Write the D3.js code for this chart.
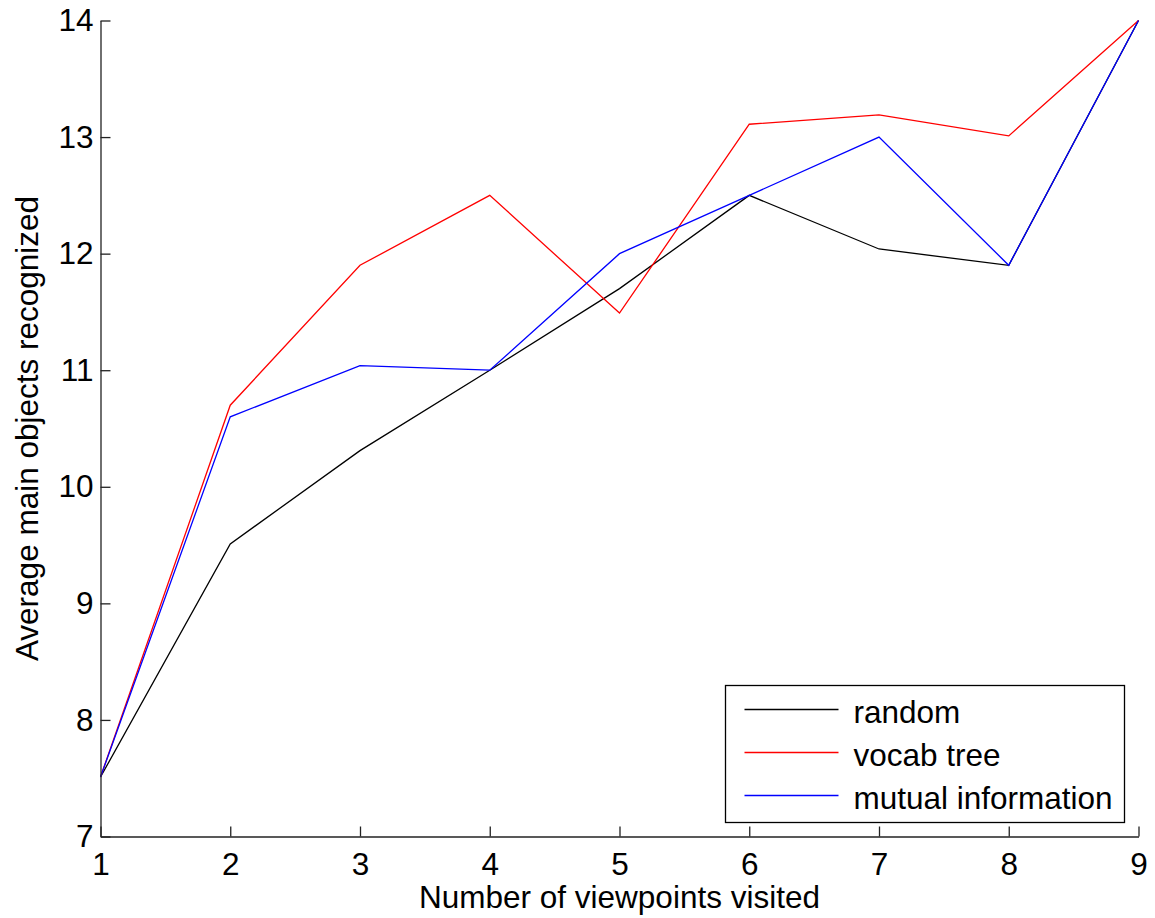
<!DOCTYPE html>
<html>
<head>
<meta charset="utf-8">
<script src="https://cdn.jsdelivr.net/npm/d3@7"></script>
<style>
  body { margin: 0; background: #fff; }
  svg text { font-family: "Liberation Sans", Arial, sans-serif; fill: #000; }
</style>
</head>
<body>
<svg id="chart" width="1155" height="918"></svg>
<script>
const viewpoints = [1, 2, 3, 4, 5, 6, 7, 8, 9]
const randomVals = [7.51, 9.51, 10.31, 11.0, 11.7, 12.5, 12.04, 11.9, 14.0]
const vocabVals = [7.51, 10.7, 11.9, 12.5, 11.49, 13.11, 13.19, 13.01, 14.0]
const mutualVals = [7.51, 10.6, 11.04, 11.0, 12.0, 12.5, 13.0, 11.9, 14.0]
const seriesNames = ['random', 'vocab tree', 'mutual information']
const seriesColors = ['#000000', '#ff0000', '#0000ff']
const yTicks = [7, 8, 9, 10, 11, 12, 13, 14]

const series = [randomVals, vocabVals, mutualVals].map((vals, i) => ({
  name: seriesNames[i],
  color: seriesColors[i],
  points: vals.map((v, j) => ({ x: viewpoints[j], y: v }))
}))

const svg = d3.select('#chart')
const fs = 31.5

const x = d3.scaleLinear().domain([1, 9]).range([100.5, 1138.5])
const y = d3.scaleLinear().domain([7, 14]).range([836.5, 20.5])

// lines
const line = d3.line().x(d => x(d.x)).y(d => y(d.y))
svg.append('g')
  .selectAll('path')
  .data(series)
  .enter()
  .append('path')
  .attr('d', d => line(d.points))
  .attr('fill', 'none')
  .attr('stroke', d => d.color)
  .attr('stroke-width', 1.3)

// axes (ticks point inward)
const xAxis = svg.append('g')
  .attr('transform', `translate(0,${y(7)})`)
  .call(d3.axisBottom(x).tickValues(viewpoints).tickFormat(d3.format('d')).tickSizeInner(-10).tickSizeOuter(0).tickPadding(16))
const yAxis = svg.append('g')
  .attr('transform', `translate(${x(1)},0)`)
  .call(d3.axisLeft(y).tickValues(yTicks).tickFormat(d3.format('d')).tickSizeInner(-10).tickSizeOuter(0).tickPadding(7))

;[xAxis, yAxis].forEach(ax => {
  ax.select('.domain').attr('stroke', '#222').attr('stroke-width', 1.3)
  ax.selectAll('.tick line').attr('stroke', '#222').attr('stroke-width', 1.3)
  ax.selectAll('.tick text').style('font-size', fs + 'px').style('font-family', '"Liberation Sans", Arial, sans-serif').attr('fill', '#000')
})

// axis labels
svg.append('text')
  .attr('x', (x(1) + x(9)) / 2)
  .attr('y', 908)
  .attr('text-anchor', 'middle')
  .style('font-size', fs + 'px')
  .text('Number of viewpoints visited')

svg.append('text')
  .attr('transform', `translate(38,${(y(7) + y(14)) / 2}) rotate(-90)`)
  .attr('text-anchor', 'middle')
  .style('font-size', fs + 'px')
  .text('Average main objects recognized')

// legend
const legend = svg.append('g').attr('transform', 'translate(725.5,685.5)')
legend.append('rect')
  .attr('width', 399)
  .attr('height', 137)
  .attr('fill', '#fff')
  .attr('stroke', '#000')
  .attr('stroke-width', 1.3)

const rows = legend.selectAll('g.row')
  .data(series)
  .enter()
  .append('g')
  .attr('class', 'row')
  .attr('transform', (d, i) => `translate(0,${24 + i * 43})`)
rows.append('line')
  .attr('x1', 19).attr('x2', 113)
  .attr('stroke', d => d.color)
  .attr('stroke-width', 1.3)
rows.append('text')
  .attr('x', 128)
  .attr('dy', '0.42em')
  .style('font-size', fs + 'px')
  .text(d => d.name)
</script>
</body>
</html>
